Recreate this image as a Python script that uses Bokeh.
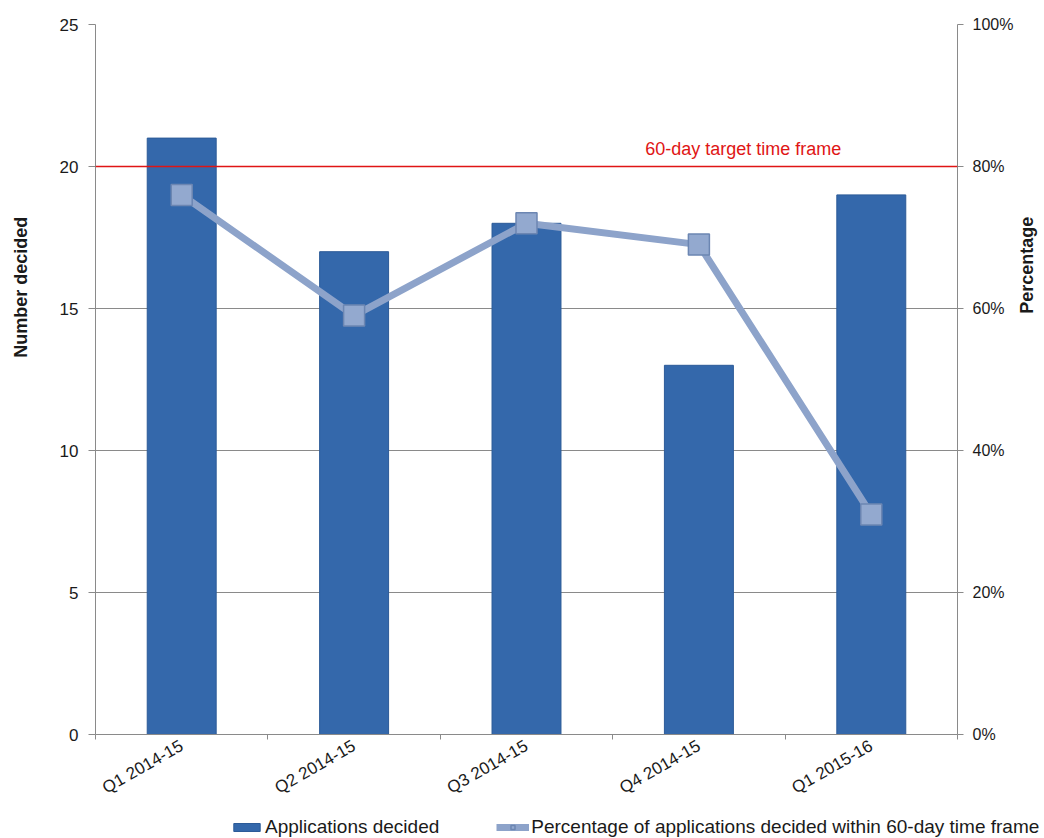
import math
from bokeh.plotting import figure
from bokeh.layouts import row, column
from bokeh.models import (Range1d, LinearAxis, Legend, LegendItem, Label, Span, FixedTicker,
                          PrintfTickFormatter, ColumnDataSource)
from bokeh.embed import file_html
from bokeh.resources import INLINE

quarters = ["Q1 2014-15", "Q2 2014-15", "Q3 2014-15", "Q4 2014-15", "Q1 2015-16"]
applications_decided = [21, 17, 18, 13, 19]
pct_within_60_days = [76, 59, 72, 69, 31]
target_pct = 80
count_ticks = [0, 5, 10, 15, 20, 25]
pct_ticks = [0, 20, 40, 60, 80, 100]

FONT = "Liberation Sans"
GREY = "#8a8a8a"
TEXT = "#1a1a1a"
BAR = "#3468AB"
BAR_EDGE = "#2C5B98"
LINE = "#8DA3CA"
MARK_FILL = "#93A9CF"
MARK_EDGE = "#6C86B2"
RED = "#E01515"

ROW_H = 808
LEFT_W, MAIN_W, RIGHT_W = 35, 981, 28

# each quarter occupies one unit slot; marks sit at the slot centres
slot_centres = [i + 0.5 for i in range(len(quarters))]
slot_edges = list(range(len(quarters) + 1))
src = ColumnDataSource(dict(x=slot_centres, n=applications_decided, pct=pct_within_60_days))


def blank(width, height):
    f = figure(width=width, height=height, x_range=Range1d(0, width), y_range=Range1d(0, height),
               output_backend="svg", toolbar_location=None, x_axis_location=None,
               y_axis_location=None, min_border=0)
    f.outline_line_color = None
    f.grid.visible = False
    return f


p = figure(x_range=Range1d(0, len(quarters)), y_range=Range1d(0, 25),
           width=MAIN_W, height=ROW_H, output_backend="svg", toolbar_location=None,
           x_axis_location=None,
           min_border_left=60, min_border_right=56, min_border_top=24, min_border_bottom=73)
p.outline_line_color = None

# quarter names under each slot, small ticks on the slot boundaries
x_axis = LinearAxis(ticker=FixedTicker(ticks=slot_centres, minor_ticks=slot_edges),
                    major_label_overrides={c: q for c, q in zip(slot_centres, quarters)},
                    axis_line_color=GREY, major_tick_line_color=None,
                    minor_tick_line_color=GREY, minor_tick_in=0, minor_tick_out=5,
                    major_label_orientation=0.52, major_label_standoff=4,
                    major_label_text_font=FONT, major_label_text_font_size="17px",
                    major_label_text_color=TEXT)
p.add_layout(x_axis, "below")

# left count axis
p.yaxis.ticker = FixedTicker(ticks=count_ticks)
p.yaxis.axis_line_color = GREY
p.yaxis.major_tick_line_color = GREY
p.yaxis.major_tick_in = 0
p.yaxis.major_tick_out = 7
p.yaxis.minor_tick_line_color = None
p.yaxis.major_label_text_font = FONT
p.yaxis.major_label_text_font_size = "17px"
p.yaxis.major_label_text_color = TEXT
p.yaxis.major_label_standoff = 10

p.xgrid.visible = False
p.ygrid.ticker = FixedTicker(ticks=count_ticks)
p.ygrid.grid_line_color = GREY
p.ygrid.grid_line_width = 1

# right percentage axis
p.extra_y_ranges = {"pct": Range1d(0, 100)}
pct_axis = LinearAxis(y_range_name="pct", ticker=FixedTicker(ticks=pct_ticks),
                      formatter=PrintfTickFormatter(format="%d%%"),
                      axis_line_color=GREY, major_tick_line_color=GREY,
                      major_tick_in=0, major_tick_out=6, minor_tick_line_color=None,
                      major_label_text_font=FONT, major_label_text_font_size="16px",
                      major_label_text_color=TEXT, major_label_standoff=9)
p.add_layout(pct_axis, "right")

p.vbar(x="x", top="n", width=0.4, source=src,
       fill_color=BAR, line_color=BAR_EDGE, line_width=1)

p.line(x="x", y="pct", source=src, y_range_name="pct",
       line_width=7, line_color=LINE, line_join="round")
p.scatter(x="x", y="pct", source=src, y_range_name="pct", marker="square",
          size=21, fill_color=MARK_FILL, line_color=MARK_EDGE, line_width=1.5)

p.add_layout(Span(location=target_pct, dimension="width", y_range_name="pct",
                  line_color=RED, line_width=1.5))
p.add_layout(Label(x=3.757, y=target_pct, y_range_name="pct", y_offset=18,
                   text="60-day target time frame", text_align="center",
                   text_baseline="alphabetic",
                   text_font=FONT, text_font_size="18px", text_color=RED))

# axis titles in narrow side strips
left = blank(LEFT_W, ROW_H)
left.add_layout(Label(x=20, y=ROW_H - 299, text="Number decided", angle=math.pi / 2,
                      text_align="center", text_baseline="middle", text_font=FONT,
                      text_font_size="18px", text_font_style="bold", text_color=TEXT))

right = blank(RIGHT_W, ROW_H)
right.add_layout(Label(x=10, y=ROW_H - 274, text="Percentage", angle=math.pi / 2,
                       text_align="center", text_baseline="middle", text_font=FONT,
                       text_font_size="18px", text_font_style="bold", text_color=TEXT))

# legend strip along the bottom; key glyphs sit off-canvas so only their swatches show
leg = blank(LEFT_W + MAIN_W + RIGHT_W, 30)
key_src = ColumnDataSource(dict(x=[-100], y=[-100]))
bar_key = leg.vbar(x="x", top="y", width=1, source=key_src, fill_color=BAR, line_color=BAR_EDGE)
line_key = leg.line(x="x", y="y", source=key_src, line_width=7, line_color=LINE)
mark_key = leg.scatter(x="x", y="y", source=key_src, marker="square", size=14,
                       fill_color=MARK_FILL, line_color=MARK_EDGE, line_width=1.5)
legend = Legend(items=[LegendItem(label="Applications decided", renderers=[bar_key]),
                       LegendItem(label="Percentage of applications decided within 60-day time frame",
                                  renderers=[line_key, mark_key])],
                orientation="horizontal", location=(230, 0),
                glyph_width=33, glyph_height=10, label_height=22, label_standoff=2, spacing=57,
                padding=0, margin=0, border_line_color=None, background_fill_alpha=0,
                label_text_font=FONT, label_text_font_size="19px", label_text_color=TEXT)
leg.add_layout(legend)

layout = column(row(left, p, right, spacing=0), leg, spacing=0)

open("out.html", "w").write(file_html(layout, INLINE))
